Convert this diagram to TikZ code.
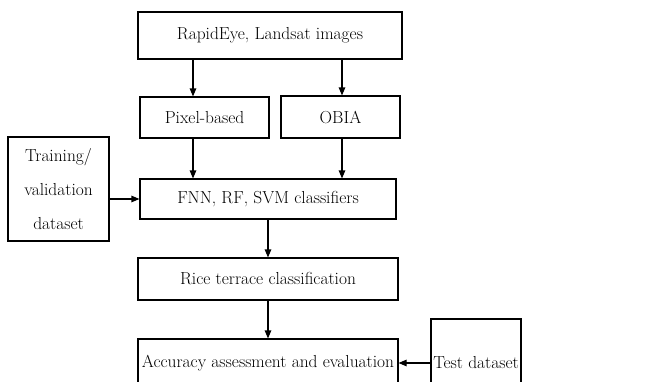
\documentclass[tikz,border=0pt]{standalone}
\usetikzlibrary{arrows.meta}
\begin{document}
\begin{tikzpicture}[x=1pt,y=-1pt,
  box/.style={draw,line width=1.1pt,inner sep=0pt,align=center,font=\fontsize{17.4}{34}\selectfont},
  arr/.style={line width=1.1pt,-{Triangle[length=8pt,width=6.5pt]}}]
\useasboundingbox (0,0) rectangle (647,381);
\clip (0,0) rectangle (647,381);
\node[box,minimum width=264pt,minimum height=47pt] (top) at (270,35.5) {RapidEye, Landsat images};
\node[box,minimum width=129pt,minimum height=41pt] (pix) at (204.5,117.5) {Pixel-based};
\node[box,minimum width=119pt,minimum height=42pt] (obia) at (340.5,117) {OBIA};
\node[box,minimum width=101pt,minimum height=104pt] (train) at (58.5,189) {Training/\\validation\\dataset};
\node[box,minimum width=256pt,minimum height=40pt] (fnn) at (268,199) {FNN, RF, SVM classifiers};
\node[box,minimum width=260pt,minimum height=42pt] (rice) at (268,279) {Rice terrace classification};
\node[box,minimum width=260pt,minimum height=48pt] (acc) at (268,363) {Accuracy assessment and evaluation};
\node[box,minimum width=90pt,minimum height=88pt] (test) at (476,363) {Test dataset};
\coordinate (ca) at (193,0);
\coordinate (cb) at (342,0);
\coordinate (cc) at (268,0);
\draw[arr] (top.south -| ca) -- (pix.north -| ca);
\draw[arr] (top.south -| cb) -- (obia.north -| cb);
\draw[arr] (pix.south -| ca) -- (fnn.north -| ca);
\draw[arr] (obia.south -| cb) -- (fnn.north -| cb);
\draw[arr] (train.east |- fnn) -- (fnn.west);
\draw[arr] (fnn.south -| cc) -- (rice.north -| cc);
\draw[arr] (rice.south -| cc) -- (acc.north -| cc);
\draw[arr] (test.west) -- (acc.east);
\end{tikzpicture}
\end{document}
